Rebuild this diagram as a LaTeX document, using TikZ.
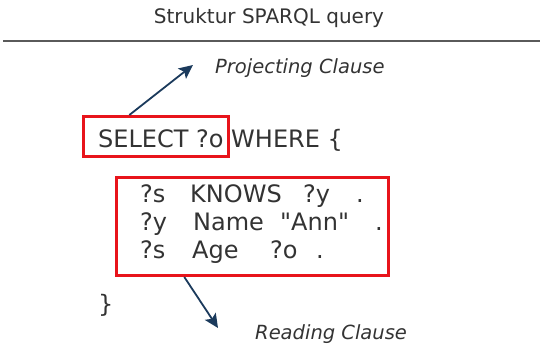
\documentclass[tikz,border=0pt]{standalone}
\usepackage{fontspec}
\setmainfont{DejaVu Sans}
% plain family without TeX ligatures, so " stays a straight quote
\newfontfamily\codefont{DejaVu Sans}
\usetikzlibrary{arrows.meta,calc}
\definecolor{ink}{HTML}{333333}
\definecolor{boxred}{HTML}{E8141B}
\definecolor{navy}{HTML}{1B3A5C}
\definecolor{rulegray}{HTML}{5A5A5A}
\begin{document}
\begin{tikzpicture}[x=1pt,y=-1pt,
  txt/.style={inner sep=0pt, anchor=base west, text=ink},
  code/.style={txt, font=\codefont\fontsize{24pt}{28pt}\selectfont},
  clause/.style={txt, font=\fontsize{19.5pt}{23pt}\selectfont\itshape},
  redbox/.style={draw=boxred, line width=3pt, inner sep=0pt},
  pointer/.style={draw=navy, line width=1.8pt,
    -{Stealth[length=14pt,width=13pt,inset=3pt]}}]
\useasboundingbox (0,0) rectangle (540,345);

% heading and rule
\node[txt, anchor=base, font=\fontsize{20pt}{24pt}\selectfont] (title) at (269,24) {Struktur SPARQL query};
\draw[rulegray, line width=2pt] (3,41) -- (540,41);

% highlight boxes
\node[redbox, minimum width=145pt, minimum height=40pt] (selbox) at (156,136.5) {};
\node[redbox, minimum width=272pt, minimum height=98pt] (wherebox) at (252.5,226.5) {};

% query text
\node[code] (sel) at (98,147) {SELECT ?o WHERE \{};
\node[code] (t1) at (140,202) {\makebox[50pt][l]{?s}\makebox[113pt][l]{KNOWS}\makebox[53pt][l]{?y}.};
\node[code] (t2) at (140,230) {\makebox[53pt][l]{?y}\makebox[87pt][l]{Name}\makebox[95pt][l]{"Ann"}.};
\node[code] (t3) at (140,258) {\makebox[52pt][l]{?s}\makebox[78pt][l]{Age}\makebox[46pt][l]{?o}.};
\node[code] (close) at (98,312) {\}};

% clause labels
\node[clause] (proj) at (215,73) {Projecting Clause};
\node[clause] (read) at (255,339) {Reading Clause};

% pointers
\coordinate (pcfrom) at ($(selbox.north west)!0.32!(selbox.north east)$);
\coordinate (pcto) at (193,65);
\draw[pointer] (pcfrom) -- (pcto);
\coordinate (rcfrom) at ($(wherebox.south west)!0.252!(wherebox.south east)$);
\coordinate (rcto) at (218,328);
\draw[pointer] (rcfrom) -- (rcto);
\end{tikzpicture}
\end{document}
